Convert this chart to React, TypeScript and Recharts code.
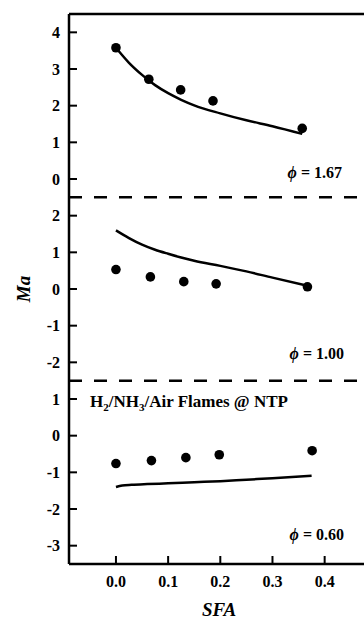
import React from 'react';
import {
  ComposedChart,
  Line,
  Scatter,
  XAxis,
  YAxis,
  ReferenceLine,
  ReferenceArea,
} from 'recharts';

const FONT = '"Liberation Serif", "Times New Roman", Times, serif';

// ---- x axis (SFA)
const sfaTicks = [0, 0.1, 0.2, 0.3, 0.4];
const sfaTickLabels = ['0.0', '0.1', '0.2', '0.3', '0.4'];

// ---- phi = 1.67 (top panel)
const sfaMeasured167 = [0.0, 0.063, 0.124, 0.186, 0.357];
const maMeasured167 = [3.58, 2.72, 2.43, 2.13, 1.38];
const sfaModel167 = [0, 0.025, 0.05, 0.075, 0.1, 0.125, 0.15, 0.2, 0.25, 0.3, 0.357];
const maModel167 = [3.58, 3.17, 2.84, 2.56, 2.34, 2.16, 2.01, 1.79, 1.6, 1.44, 1.23];
const maTicks167 = [0, 1, 2, 3, 4];

// ---- phi = 1.00 (middle panel)
const sfaMeasured100 = [0.0, 0.066, 0.13, 0.192, 0.367];
const maMeasured100 = [0.53, 0.33, 0.2, 0.14, 0.06];
const sfaModel100 = [0, 0.025, 0.05, 0.075, 0.1, 0.125, 0.15, 0.2, 0.25, 0.3, 0.367];
const maModel100 = [1.6, 1.39, 1.21, 1.07, 0.96, 0.86, 0.77, 0.63, 0.48, 0.31, 0.09];
const maTicks100 = [-2, -1, 0, 1, 2];

// ---- phi = 0.60 (bottom panel)
const sfaMeasured060 = [0.0, 0.068, 0.134, 0.198, 0.376];
const maMeasured060 = [-0.76, -0.68, -0.6, -0.52, -0.41];
const sfaModel060 = [0, 0.012, 0.03, 0.06, 0.1, 0.15, 0.2, 0.25, 0.3, 0.375];
const maModel060 = [-1.4, -1.36, -1.34, -1.32, -1.3, -1.27, -1.24, -1.2, -1.16, -1.09];
const maTicks060 = [-3, -2, -1, 0, 1];

const phiLabels = ['1.67', '1.00', '0.60'];
const flameLabel = ['H', '2', '/NH', '3', '/Air Flames @ NTP'];

// stacked panels share one value axis; each panel spans 5 Ma units
const OFF_TOP = 7;
const OFF_MID = 4;
const OFF_BOT = 0;

const toXY = (xs: number[], ys: number[], off: number) =>
  xs.map((x, i) => ({ x, y: ys[i] + off }));

const measured167 = toXY(sfaMeasured167, maMeasured167, OFF_TOP);
const model167 = toXY(sfaModel167, maModel167, OFF_TOP);
const measured100 = toXY(sfaMeasured100, maMeasured100, OFF_MID);
const model100 = toXY(sfaModel100, maModel100, OFF_MID);
const measured060 = toXY(sfaMeasured060, maMeasured060, OFF_BOT);
const model060 = toXY(sfaModel060, maModel060, OFF_BOT);

const yTickEntries = [
  ...maTicks060.map((v) => [v + OFF_BOT, v]),
  ...maTicks100.map((v) => [v + OFF_MID, v]),
  ...maTicks167.map((v) => [v + OFF_TOP, v]),
];
const yTicks = yTickEntries.map((e) => e[0]);
const yTickText = (v: number) => {
  const e = yTickEntries.find((t) => Math.abs(t[0] - v) < 1e-6);
  return e ? String(e[1]) : '';
};
const xTickText = (v: number) => {
  const i = sfaTicks.findIndex((t) => Math.abs(t - v) < 1e-6);
  return i >= 0 ? sfaTickLabels[i] : '';
};

const Dot = (p: any) => <circle cx={p.cx} cy={p.cy} r={4.8} fill="#000" />;

const PhiLabel = ({ viewBox, text, right, bottom }: any) => {
  if (!viewBox) return null;
  const x = viewBox.x + viewBox.width - right;
  const y = viewBox.y + viewBox.height - bottom;
  return (
    <text x={x} y={y} textAnchor="end" fontFamily={FONT} fontWeight="bold" fontSize={16} fill="#000">
      <tspan fontStyle="italic">ϕ</tspan>
      {' = ' + text}
    </text>
  );
};

const FlameLabel = ({ viewBox }: any) => {
  if (!viewBox) return null;
  return (
    <text x={viewBox.x + 21} y={viewBox.y + 26.5} fontFamily={FONT} fontWeight="bold" fontSize={17} fill="#000">
      {flameLabel[0]}
      <tspan dy={4} fontSize={11}>{flameLabel[1]}</tspan>
      <tspan dy={-4}>{flameLabel[2]}</tspan>
      <tspan dy={4} fontSize={11}>{flameLabel[3]}</tspan>
      <tspan dy={-4}>{flameLabel[4]}</tspan>
    </text>
  );
};

const MaLabel = ({ viewBox }: any) => {
  if (!viewBox) return null;
  const cx = viewBox.x + 15;
  const cy = viewBox.y + viewBox.height / 2;
  return (
    <text
      x={cx}
      y={cy}
      transform={`rotate(-90, ${cx}, ${cy})`}
      textAnchor="middle"
      dominantBaseline="central"
      fontFamily={FONT}
      fontWeight="bold"
      fontStyle="italic"
      fontSize={19}
      fill="#000"
    >
      Ma
    </text>
  );
};

const tickStyle = { fontFamily: FONT, fontSize: 16, fontWeight: 'bold', fill: '#000' };
const X_DOMAIN: [number, number] = [-0.09, 0.485];
const Y_DOMAIN: [number, number] = [-3.5, 11.5];

export default function App() {
  return (
    <div style={{ position: 'absolute', left: 0, top: 0, width: 364, height: 620, overflow: 'hidden', background: '#fff' }}>
      <ComposedChart
        width={399}
        height={620}
        margin={{ top: 8, right: 0, bottom: 0, left: 8 }}
      >
        <XAxis
          dataKey="x"
          type="number"
          domain={X_DOMAIN}
          allowDataOverflow
          ticks={sfaTicks}
          tickFormatter={xTickText}
          height={56}
          tickSize={-8}
          tickMargin={20}
          tick={tickStyle}
          axisLine={{ stroke: '#000', strokeWidth: 2.5 }}
          tickLine={{ stroke: '#000', strokeWidth: 2 }}
          label={{
            value: 'SFA',
            position: 'insideBottom',
            offset: 4,
            fontFamily: FONT,
            fontSize: 19,
            fontWeight: 'bold',
            fontStyle: 'italic',
            fill: '#000',
          }}
        />
        <XAxis
          xAxisId="top"
          orientation="top"
          dataKey="x"
          type="number"
          domain={X_DOMAIN}
          allowDataOverflow
          ticks={sfaTicks}
          height={6}
          tickSize={-8}
          tick={false}
          axisLine={{ stroke: '#000', strokeWidth: 2.5 }}
          tickLine={{ stroke: '#000', strokeWidth: 2 }}
        />
        <YAxis
          dataKey="y"
          type="number"
          domain={Y_DOMAIN}
          allowDataOverflow
          ticks={yTicks}
          tickFormatter={yTickText}
          width={61}
          tickSize={-8}
          tickMargin={17}
          tick={tickStyle}
          axisLine={{ stroke: '#000', strokeWidth: 2.5 }}
          tickLine={{ stroke: '#000', strokeWidth: 2 }}
          label={<MaLabel />}
        />
        <YAxis
          yAxisId="right"
          orientation="right"
          type="number"
          domain={Y_DOMAIN}
          allowDataOverflow
          ticks={yTicks}
          width={30}
          tickSize={-8}
          tick={false}
          axisLine={{ stroke: '#000', strokeWidth: 2.5 }}
          tickLine={{ stroke: '#bbb', strokeWidth: 1.5 }}
        />

        <ReferenceArea y1={6.5} y2={11.5} fill="none" stroke="none" label={<PhiLabel text={phiLabels[0]} right={27} bottom={19.5} />} />
        <ReferenceArea y1={1.5} y2={6.5} fill="none" stroke="none" label={<PhiLabel text={phiLabels[1]} right={25} bottom={21.5} />} />
        <ReferenceArea y1={-3.5} y2={1.5} fill="none" stroke="none" label={<PhiLabel text={phiLabels[2]} right={25} bottom={24.5} />} />
        <ReferenceArea y1={-3.5} y2={1.5} fill="none" stroke="none" label={<FlameLabel />} />

        <ReferenceLine y={6.5} stroke="#000" strokeWidth={2.5} strokeDasharray="13 12" />
        <ReferenceLine y={1.5} stroke="#000" strokeWidth={2.5} strokeDasharray="13 12" />

        <Line data={model167} dataKey="y" type="monotone" stroke="#000" strokeWidth={2.5} dot={false} isAnimationActive={false} />
        <Line data={model100} dataKey="y" type="monotone" stroke="#000" strokeWidth={2.5} dot={false} isAnimationActive={false} />
        <Line data={model060} dataKey="y" type="monotone" stroke="#000" strokeWidth={2.5} dot={false} isAnimationActive={false} />

        <Scatter data={measured167} dataKey="y" shape={Dot} isAnimationActive={false} />
        <Scatter data={measured100} dataKey="y" shape={Dot} isAnimationActive={false} />
        <Scatter data={measured060} dataKey="y" shape={Dot} isAnimationActive={false} />
      </ComposedChart>
    </div>
  );
}
